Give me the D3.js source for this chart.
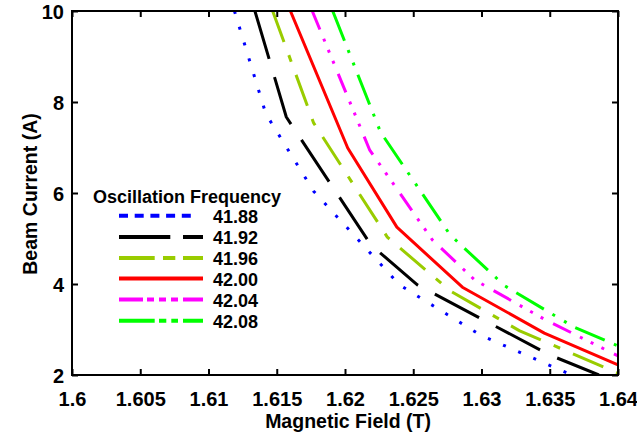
<!DOCTYPE html>
<html><head><meta charset="utf-8">
<script src="https://cdn.jsdelivr.net/npm/d3@7"></script>
<style>
html,body{margin:0;padding:0;background:#fff;}
text{font-family:"Liberation Sans",Arial,sans-serif;font-weight:bold;fill:#000;}
</style></head>
<body>
<svg id="chart" width="637" height="438"></svg>
<script>
// ---- data ----
const frequencies = ["41.88", "41.92", "41.96", "42.00", "42.04", "42.08"];
const field_4188 = [1.6119, 1.6142, 1.6177, 1.6240, 1.6299, 1.6366];
const current_4188 = [10, 7.74, 6.04, 3.98, 2.88, 2.0];
const field_4192 = [1.6134, 1.6157, 1.6219, 1.6253, 1.6350, 1.6386];
const current_4192 = [10, 7.67, 4.86, 3.98, 2.44, 2.0];
const field_4196 = [1.6147, 1.6177, 1.6231, 1.6277, 1.6328, 1.6400];
const current_4196 = [10, 7.54, 5.03, 3.85, 2.97, 2.04];
const field_4200 = [1.6160, 1.6202, 1.6238, 1.6286, 1.6346, 1.6400];
const current_4200 = [10, 6.99, 5.25, 3.93, 2.92, 2.22];
const field_4204 = [1.6176, 1.6218, 1.6264, 1.6295, 1.6347, 1.6400];
const current_4204 = [10, 6.95, 4.97, 4.09, 3.21, 2.42];
const field_4208 = [1.6191, 1.6226, 1.6277, 1.6317, 1.6368, 1.6400];
const current_4208 = [10, 7.34, 5.08, 3.96, 3.05, 2.64];
const xTicks = [1.6, 1.605, 1.61, 1.615, 1.62, 1.625, 1.63, 1.635, 1.64];
const xTickLabels = ["1.6", "1.605", "1.61", "1.615", "1.62", "1.625", "1.63", "1.635", "1.64"];
const yTicks = [2, 4, 6, 8, 10];
const yTickLabels = ["2", "4", "6", "8", "10"];

// ---- styles ----
const colors = ["#0000ff", "#000000", "#99cc00", "#ff0000", "#ff00ff", "#00ff00"];
const plotDash = ["3,13.5", "50,19", "33,14,7,14", null, "20,10,3,9,3,9,3,11", "32,10,3,10.5,3,10"];
const legendDash = ["9,6.7", "51.3,12.7,19.3,0", "35.7,8.3,12.3,7.7", null, "24,4,7,5,7,5,7,5", "35.7,4.3,7.3,5,6.7,5"];

const fields = [field_4188, field_4192, field_4196, field_4200, field_4204, field_4208];
const currents = [current_4188, current_4192, current_4196, current_4200, current_4204, current_4208];
const series = frequencies.map((f, i) => ({
  name: f, color: colors[i], dash: plotDash[i], ldash: legendDash[i],
  pts: fields[i].map((b, j) => ({b: b, c: currents[i][j]}))
}));

const L = 72, R = 618, T = 11, B = 375;
const svg = d3.select("#chart");
const x = d3.scaleLinear().domain([1.6, 1.64]).range([L, R]);
const y = d3.scaleLinear().domain([2, 10]).range([B, T]);

svg.append("defs").append("clipPath").attr("id", "clip")
  .append("rect").attr("x", L).attr("y", T).attr("width", R - L).attr("height", B - T);

// lines
const line = d3.line().x(d => x(d.b)).y(d => y(d.c));
const g = svg.append("g").attr("clip-path", "url(#clip)");
series.forEach(s => {
  g.append("path").datum(s.pts).attr("d", line)
    .attr("fill", "none").attr("stroke", s.color).attr("stroke-width", 3)
    .attr("stroke-linejoin", "round")
    .attr("stroke-dasharray", s.dash);
});

// axes (ticks inward on all four sides)
const tl = 6;
const xb = svg.append("g").attr("transform", `translate(0,${B})`)
  .call(d3.axisBottom(x).tickValues(xTicks).tickSizeInner(-tl).tickSizeOuter(0)
    .tickPadding(31).tickFormat((d, i) => xTickLabels[i]));
const xt = svg.append("g").attr("transform", `translate(0,${T})`)
  .call(d3.axisTop(x).tickValues(xTicks).tickSizeInner(-tl).tickSizeOuter(0).tickFormat(""));
const yl = svg.append("g").attr("transform", `translate(${L},0)`)
  .call(d3.axisLeft(y).tickValues(yTicks).tickSizeInner(-tl).tickSizeOuter(0)
    .tickPadding(8).tickFormat((d, i) => yTickLabels[i]));
const yr = svg.append("g").attr("transform", `translate(${R},0)`)
  .call(d3.axisRight(y).tickValues(yTicks).tickSizeInner(-tl).tickSizeOuter(0).tickFormat(""));
[xb, xt, yl, yr].forEach(a => {
  a.select(".domain").remove();
  a.selectAll(".tick line").attr("stroke", "#000").attr("stroke-width", 2);
  a.selectAll("text").attr("font-size", 20).attr("font-family", '"Liberation Sans",Arial,sans-serif')
    .attr("font-weight", "bold").attr("fill", "#000");
});
xb.selectAll("text").attr("dy", "0");
yl.selectAll("text").attr("dy", "0.36em");

svg.append("rect").attr("x", L).attr("y", T).attr("width", R - L).attr("height", B - T)
  .attr("fill", "none").attr("stroke", "#000").attr("stroke-width", 2);

// axis titles
svg.append("text").attr("x", 348).attr("y", 428).attr("text-anchor", "middle")
  .attr("font-size", 19.5).text("Magnetic Field (T)");
svg.append("text").attr("transform", `translate(37,194) rotate(-90)`)
  .attr("text-anchor", "middle").attr("font-size", 19.5).text("Beam Current (A)");

// legend
const lg = svg.append("g");
lg.append("text").attr("x", 93).attr("y", 203).attr("font-size", 18).text("Oscillation Frequency");
const rowY = [215.7, 237, 258, 278.5, 299.5, 320.7];
series.forEach((s, i) => {
  const yy = rowY[i];
  lg.append("line").attr("x1", 119).attr("x2", i === 0 ? 191 : 203).attr("y1", yy).attr("y2", yy)
    .attr("stroke", s.color).attr("stroke-width", 4).attr("stroke-dasharray", s.ldash);
  lg.append("text").attr("x", 213).attr("y", yy + 7).attr("font-size", 18).text(s.name);
});
</script>
</body></html>
